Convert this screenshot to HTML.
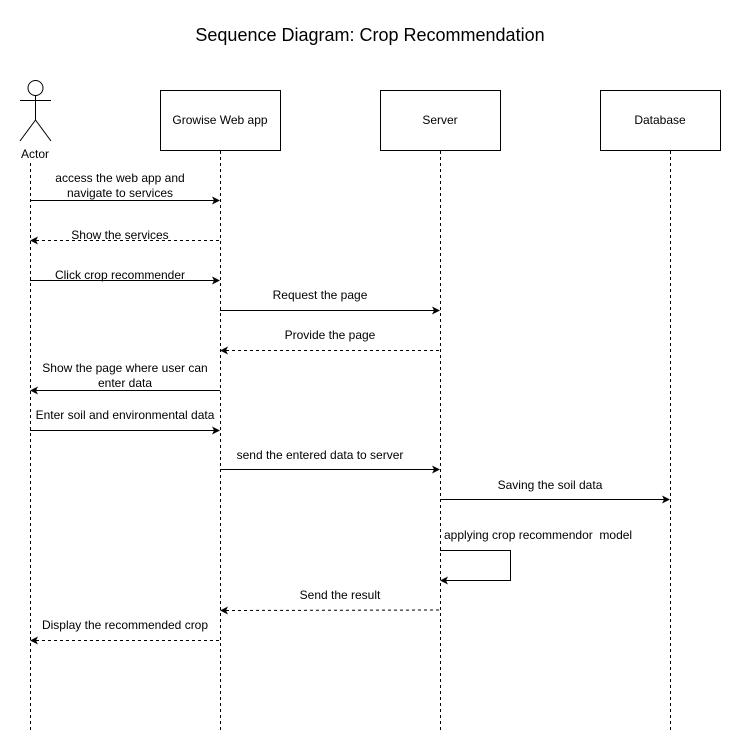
<!DOCTYPE html>
<html><head><meta charset="utf-8"><style>
html,body{margin:0;padding:0;background:#fff}
svg{display:block}
text{font-family:"Liberation Sans",sans-serif;font-size:12px;fill:#000}
</style></head><body>
<svg width="741" height="752" viewBox="0 0 741 752" xmlns="http://www.w3.org/2000/svg">
<text x="370" y="41" text-anchor="middle" style="font-size:18px">Sequence Diagram: Crop Recommendation</text>
<!-- actor -->
<g stroke="#000" fill="none" stroke-width="1">
<circle cx="35.5" cy="88" r="7.5" fill="#fff"/>
<line x1="35.5" y1="95.5" x2="35.5" y2="120"/>
<line x1="20" y1="100.5" x2="51" y2="100.5"/>
<line x1="35.5" y1="120" x2="20" y2="141"/>
<line x1="35.5" y1="120" x2="51" y2="141"/>
<rect x="160.5" y="90.5" width="120" height="60"/>
<rect x="380.5" y="90.5" width="120" height="60"/>
<rect x="600.5" y="90.5" width="120" height="60"/>
<g stroke-dasharray="3,3">
<line x1="30.5" y1="163" x2="30.5" y2="730"/>
<line x1="220.5" y1="151" x2="220.5" y2="730"/>
<line x1="440.5" y1="151" x2="440.5" y2="730"/>
<line x1="670.5" y1="151" x2="670.5" y2="730"/>
</g>
</g>
<text x="35" y="158" text-anchor="middle">Actor</text>
<text x="220" y="124" text-anchor="middle">Growise Web app</text>
<text x="440" y="124" text-anchor="middle">Server</text>
<text x="660" y="124" text-anchor="middle">Database</text>
<g stroke="#000" stroke-width="1" fill="none">
<line x1="30" y1="200.5" x2="214" y2="200.5"/>
<line x1="36" y1="240.5" x2="220" y2="240.5" stroke-dasharray="3,3"/>
<line x1="30" y1="280.5" x2="214" y2="280.5"/>
<line x1="220" y1="310.5" x2="434" y2="310.5"/>
<line x1="226" y1="350.5" x2="440" y2="350.5" stroke-dasharray="3,3"/>
<line x1="36" y1="390.5" x2="220" y2="390.5"/>
<line x1="30" y1="430.5" x2="214" y2="430.5"/>
<line x1="220" y1="469.5" x2="434" y2="469.5"/>
<line x1="440" y1="499.5" x2="664" y2="499.5"/>
<polyline points="440,550.5 510.5,550.5 510.5,580.5 446,580.5"/>
<line x1="226" y1="610.5" x2="440" y2="610" stroke-dasharray="3,3"/>
<line x1="36" y1="640.5" x2="220" y2="640.5" stroke-dasharray="3,3"/>
</g>
<g fill="#000">
<path d="M220,200.5 l-8,-4 l2,4 l-2,4z"/>
<path d="M30,240.5 l8,-4 l-2,4 l2,4z"/>
<path d="M220,280.5 l-8,-4 l2,4 l-2,4z"/>
<path d="M440,310.5 l-8,-4 l2,4 l-2,4z"/>
<path d="M220,350.5 l8,-4 l-2,4 l2,4z"/>
<path d="M30,390.5 l8,-4 l-2,4 l2,4z"/>
<path d="M220,430.5 l-8,-4 l2,4 l-2,4z"/>
<path d="M440,469.5 l-8,-4 l2,4 l-2,4z"/>
<path d="M670,499.5 l-8,-4 l2,4 l-2,4z"/>
<path d="M440,580.5 l8,-4 l-2,4 l2,4z"/>
<path d="M220,610.5 l8,-4 l-2,4 l2,4z"/>
<path d="M30,640.5 l8,-4 l-2,4 l2,4z"/>
</g>
<g text-anchor="middle">
<text x="120" y="182">access the web app and</text>
<text x="120" y="197">navigate to services</text>
<text x="120" y="239">Show the services</text>
<text x="120" y="279">Click crop recommender</text>
<text x="320" y="299">Request the page</text>
<text x="330" y="339">Provide the page</text>
<text x="125" y="372">Show the page where user can</text>
<text x="125" y="387">enter data</text>
<text x="125" y="419">Enter soil and environmental data</text>
<text x="320" y="459">send the entered data to server</text>
<text x="550" y="489">Saving the soil data</text>
<text x="340" y="599">Send the result</text>
<text x="125" y="629">Display the recommended crop</text>
</g>
<text x="444" y="539" xml:space="preserve">applying crop recommendor  model</text>
</svg>
</body></html>
